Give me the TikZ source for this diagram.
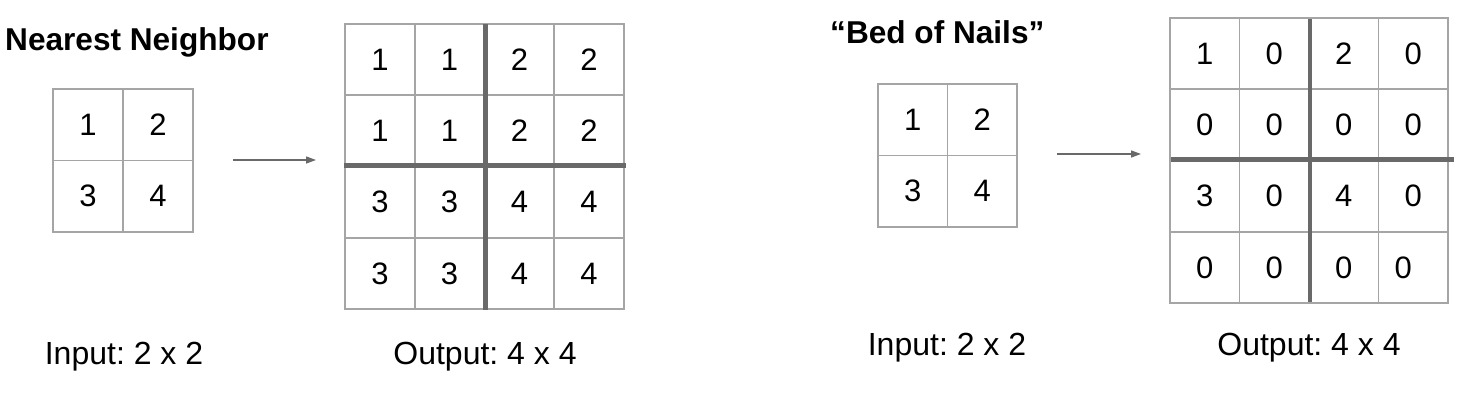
\documentclass[tikz,border=0pt]{standalone}
\usepackage{fontspec}
\setmainfont{Liberation Sans}
\usetikzlibrary{arrows.meta}
\definecolor{gridgray}{RGB}{165,165,165}
\definecolor{darkline}{RGB}{105,105,105}
\tikzset{
  cell/.style={draw=gridgray, line width=1.6pt, inner sep=0pt,
    minimum width=69.7pt, minimum height=71.3pt,
    font=\fontsize{31}{37}\selectfont},
  num/.style={inner sep=0pt, font=\fontsize{31}{37}\selectfont},
  thickline/.style={draw=darkline, line width=4.5pt},
  arr/.style={draw=darkline, line width=1.3pt, -{Triangle[length=10pt,width=7pt]}},
  title/.style={inner sep=0pt, anchor=base west, font=\bfseries\fontsize{31.6}{38}\selectfont},
  caption/.style={inner sep=0pt, anchor=base, font=\fontsize{32}{38}\selectfont}
}
\frenchspacing
\begin{document}
\begin{tikzpicture}[x=1pt,y=-1pt]
\useasboundingbox[fill=white] (0,0) rectangle (1460,405);

% ---------- Nearest Neighbor ----------
\node[title] (t1) at (5,50) {Nearest Neighbor};

\node[cell] (A11) at (88,124.75) {1};
\node[cell] (A12) at (158,124.75) {2};
\node[cell] (A21) at (88,196.25) {3};
\node[cell] (A22) at (158,196.25) {4};

\coordinate (a1s) at (233,160);
\coordinate (a1e) at (316,160);
\draw[arr] (a1s) -- (a1e);

\node[cell] (B11) at (379.9,59.6) {1};
\node[cell] (B12) at (449.6,59.6) {1};
\node[cell] (B13) at (519.4,59.6) {2};
\node[cell] (B14) at (589.1,59.6) {2};
\node[cell] (B21) at (379.9,130.9) {1};
\node[cell] (B22) at (449.6,130.9) {1};
\node[cell] (B23) at (519.4,130.9) {2};
\node[cell] (B24) at (589.1,130.9) {2};
\node[cell] (B31) at (379.9,202.1) {3};
\node[cell] (B32) at (449.6,202.1) {3};
\node[cell] (B33) at (519.4,202.1) {4};
\node[cell] (B34) at (589.1,202.1) {4};
\node[cell] (B41) at (379.9,273.4) {3};
\node[cell] (B42) at (449.6,273.4) {3};
\node[cell] (B43) at (519.4,273.4) {4};
\node[cell] (B44) at (589.1,273.4) {4};

\draw[thickline] ([yshift=-1pt]B12.north east) -- (B42.south east);
\draw[thickline] (B31.north west) -- ([xshift=1pt]B34.north east);

\node[caption] (c1) at (124,364) {Input: 2 x 2};
\node[caption] (c2) at (485,364) {Output: 4 x 4};

% ---------- Bed of Nails ----------
\node[title] (t2) at (830,43) {“Bed of Nails”};

\node[cell] (C11) at (912.75,119.75) {1};
\node[cell] (C12) at (982.25,119.75) {2};
\node[cell] (C21) at (912.75,191.25) {3};
\node[cell] (C22) at (982.25,191.25) {4};

\coordinate (a2s) at (1057,154);
\coordinate (a2e) at (1141,154);
\draw[arr] (a2s) -- (a2e);

\node[cell] (D11) at (1204.75,53.6) {1};
\node[cell] (D12) at (1274.25,53.6) {0};
\node[cell] (D13) at (1343.75,53.6) {2};
\node[cell] (D14) at (1413.25,53.6) {0};
\node[cell] (D21) at (1204.75,124.9) {0};
\node[cell] (D22) at (1274.25,124.9) {0};
\node[cell] (D23) at (1343.75,124.9) {0};
\node[cell] (D24) at (1413.25,124.9) {0};
\node[cell] (D31) at (1204.75,196.1) {3};
\node[cell] (D32) at (1274.25,196.1) {0};
\node[cell] (D33) at (1343.75,196.1) {4};
\node[cell] (D34) at (1413.25,196.1) {0};
\node[cell] (D41) at (1204.75,267.4) {0};
\node[cell] (D42) at (1274.25,267.4) {0};
\node[cell] (D43) at (1343.75,267.4) {0};
\node[cell] (D44) at (1413.25,267.4) {};
\node[num] (D44t) at ([xshift=-10pt]D44.center) {0};

\draw[thickline] ([yshift=-2pt]D12.north east) -- ([yshift=2pt]D42.south east);
\draw[thickline] ([xshift=2pt]D31.north west) -- ([xshift=5pt]D34.north east);

\node[caption] (c3) at (947,355) {Input: 2 x 2};
\node[caption] (c4) at (1309,355) {Output: 4 x 4};
\end{tikzpicture}
\end{document}
